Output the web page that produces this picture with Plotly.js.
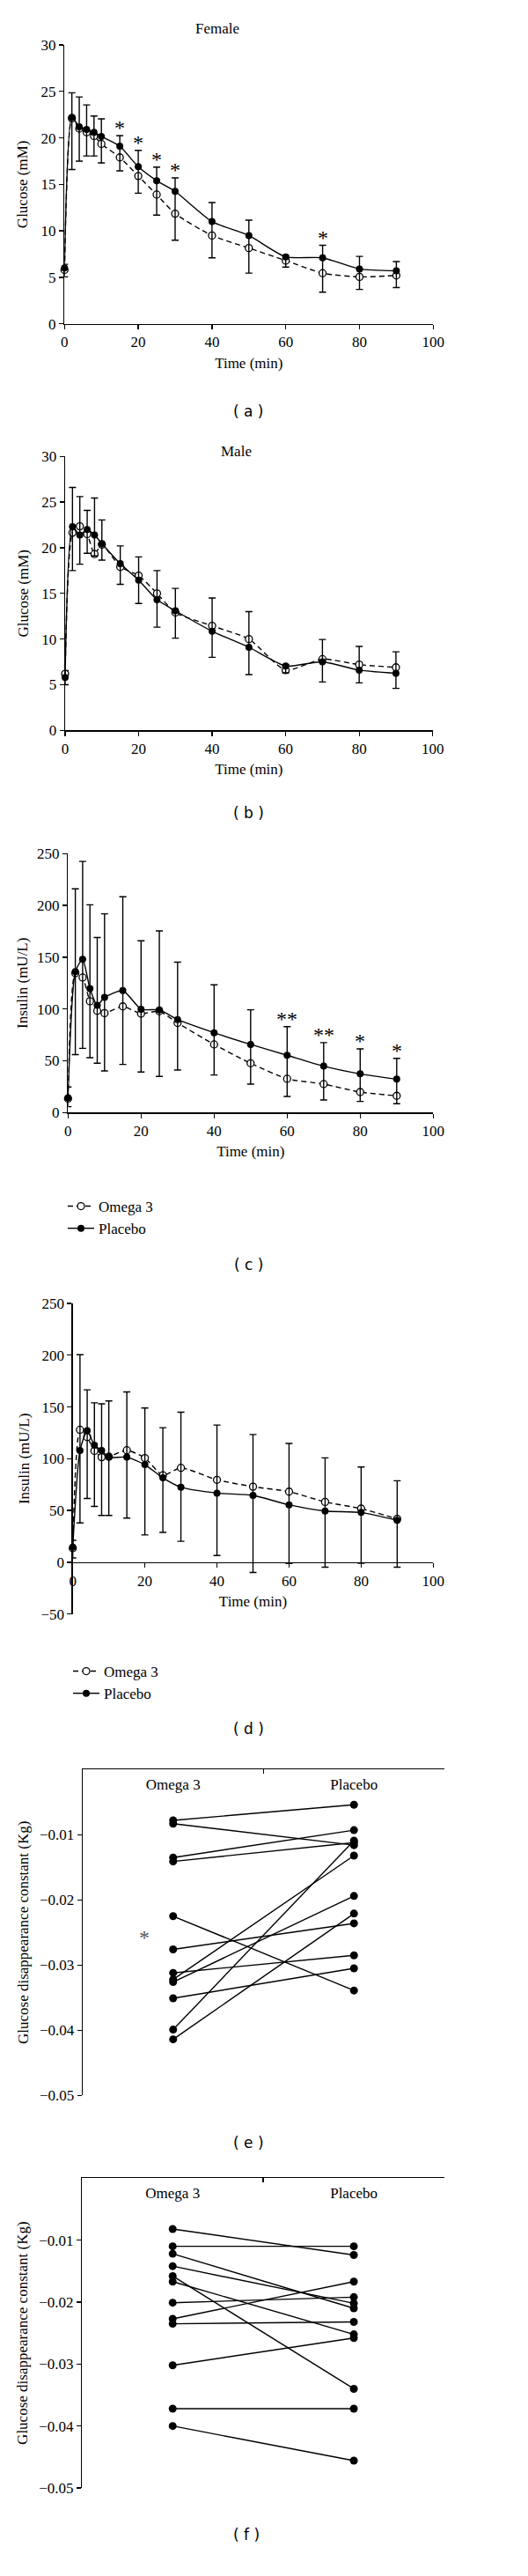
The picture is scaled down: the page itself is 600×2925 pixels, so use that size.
<!DOCTYPE html>
<html><head><meta charset="utf-8">
<script src="https://cdn.plot.ly/plotly-3.0.1.min.js"></script>
<style>html,body{margin:0;padding:0;background:#fff}</style>
</head><body><div id="chart" style="width:600px;height:2925px"></div>
<script>
// ---------------- data ----------------
const time = [0, 2, 4, 6, 8, 10, 15, 20, 25, 30, 40, 50, 60, 70, 80, 90];

// (a) Female glucose (mM)
const aPlacebo   = [6.0, 22.2, 21.2, 20.9, 20.6, 20.15, 19.1, 16.9, 15.4, 14.25, 11.0, 9.5, 7.2, 7.1, 5.9, 5.7];
const aOmega     = [5.8, 22.1, 21.0, 20.6, 20.2, 19.35, 17.9, 15.9, 13.9, 11.85, 9.5, 8.15, 6.8, 5.45, 5.05, 5.2];
const aBarTop    = [6.4, 24.85, 24.4, 23.55, 22.35, 22.05, 20.25, 18.65, 16.85, 15.7, 13.05, 11.15, 7.35, 8.45, 7.25, 6.7];
const aBarBottom = [5.05, 16.6, 17.5, 18.05, 18.05, 17.3, 16.45, 14.05, 11.7, 9.0, 7.1, 5.45, 6.1, 3.4, 3.7, 3.9];
const aStarTimes = [15, 20, 25, 30, 70];
const aStarText  = ['*', '*', '*', '*', '*'];

// (b) Male glucose (mM)
const bPlacebo   = [5.8, 22.3, 21.4, 22.0, 21.4, 20.45, 18.25, 16.45, 14.3, 13.1, 10.85, 9.1, 7.05, 7.5, 6.6, 6.25];
const bOmega     = [6.2, 21.65, 22.35, 21.5, 19.3, 20.35, 17.9, 16.95, 15.0, 12.9, 11.45, 10.0, 6.6, 7.8, 7.2, 6.9];
const bBarTop    = [6.55, 26.6, 25.6, 24.1, 25.45, 23.05, 20.2, 19.0, 17.5, 15.55, 14.5, 13.0, 7.2, 9.95, 9.2, 8.6];
const bBarBottom = [5.0, 17.5, 18.2, 19.4, 19.1, 18.65, 16.0, 13.9, 11.3, 10.1, 8.0, 6.1, 6.3, 5.3, 5.2, 4.6];

// (c) Insulin (mU/L), female
const cPlacebo   = [14.2, 136, 148, 119.8, 103.6, 111.2, 117.8, 99.8, 99.2, 89.8, 77.1, 65.8, 55.3, 44.8, 37.4, 32.3];
const cOmega     = [13.5, 134.6, 130.4, 107.5, 98.3, 96.0, 102.5, 95.5, 97.8, 86.5, 65.8, 47.6, 32.6, 27.5, 19.8, 16.2];
const cBarTop    = [24.7, 216, 242.5, 200.6, 169, 191.9, 208.4, 165.8, 175.4, 145.3, 123.3, 99.2, 83.0, 67.5, 61.5, 52.4];
const cBarBottom = [5.7, 56, 62, 53, 47.6, 40.2, 46.5, 39.1, 34.9, 41.1, 36.3, 27.5, 15.6, 12.2, 10.8, 8.5];
const cStarTimes = [60, 70, 80, 90];
const cStarText  = ['**', '**', '*', '*'];

// (d) Insulin (mU/L), male
const dPlacebo   = [14.5, 108, 127, 113, 108, 101.5, 101.5, 94.3, 81.5, 72.5, 66.8, 64.6, 55.5, 49.5, 48.1, 40.5];
const dOmega     = [13.6, 128, 121, 107.6, 101.5, 102, 108.2, 100.7, 84, 91.2, 79.6, 73, 68.2, 58.3, 51.8, 41.9];
const dBarTop    = [21.2, 200.5, 166.5, 154, 153, 155.8, 164.5, 149, 130, 145, 132.5, 123.4, 114.7, 100.8, 92, 78.7];
const dBarBottom = [4.2, 38, 61.6, 54, 45.2, 45.2, 42.7, 26.4, 28.8, 20.2, 6.5, -9.9, -1.1, -4.8, -1.0, -4.8];

// (e), (f) Glucose disappearance constant (Kg), paired subjects
const groups = ['Omega 3', 'Placebo'];
const eOmega   = [-0.0078, -0.0083, -0.0135, -0.0141, -0.0225, -0.0276, -0.0312, -0.0322, -0.0326, -0.0351, -0.0399, -0.0414];
const ePlacebo = [-0.0054, -0.0116, -0.0093, -0.0112, -0.0339, -0.0236, -0.0285, -0.0132, -0.0194, -0.0305, -0.0109, -0.0221];
const fOmega   = [-0.0082, -0.0110, -0.0122, -0.0142, -0.0158, -0.0167, -0.0201, -0.0227, -0.0235, -0.0302, -0.0372, -0.0400];
const fPlacebo = [-0.0124, -0.0110, -0.0210, -0.0202, -0.0340, -0.0252, -0.0192, -0.0167, -0.0232, -0.0258, -0.0372, -0.0456];

// ---------------- layout helpers ----------------
const W = 600, H = 2925;
const px = v => v / W;
const py = v => 1 - v / H;
const yd = (top, bot) => [py(bot), py(top)];
const serif = 'Liberation Serif, Times New Roman, serif';
const sans = 'DejaVu Sans, Verdana, sans-serif';

function axisBase(extra) {
  return Object.assign({
    showline: true, linecolor: '#000', linewidth: 1.3,
    ticks: 'outside', ticklen: 5, tickwidth: 1.3, tickcolor: '#000',
    showgrid: false, zeroline: false, fixedrange: true,
    tickfont: {family: serif, size: 17, color: '#000'}
  }, extra);
}

const traces = [];
const annotations = [];

function timePanel(n, placebo, omega, top, bot, legendName) {
  const xa = 'x' + (n === 1 ? '' : n), ya = 'y' + (n === 1 ? '' : n);
  const show = !!legendName;
  const lineCommon = {color: '#000', width: 1.4, shape: 'spline', smoothing: 0.6};
  traces.push({
    x: time, y: omega, xaxis: xa, yaxis: ya, type: 'scatter', mode: 'lines+markers',
    name: 'Omega 3', showlegend: show, legend: legendName || 'legend',
    line: Object.assign({dash: '6px,4px'}, lineCommon),
    marker: {symbol: 'circle', size: 8, color: '#fff', line: {color: '#000', width: 1.3}},
    cliponaxis: false, hoverinfo: 'x+y'
  });
  traces.push({
    x: time, y: placebo, xaxis: xa, yaxis: ya, type: 'scatter', mode: 'lines+markers',
    name: 'Placebo', showlegend: show, legend: legendName || 'legend',
    line: Object.assign({dash: 'solid'}, lineCommon),
    marker: {symbol: 'circle', size: 8, color: '#000'},
    error_y: {
      type: 'data', symmetric: false, visible: true,
      array: top.map((t, i) => t - placebo[i]),
      arrayminus: bot.map((b, i) => placebo[i] - b),
      color: '#000', thickness: 1.4, width: 4
    },
    cliponaxis: false, hoverinfo: 'x+y'
  });
}

timePanel(1, aPlacebo, aOmega, aBarTop, aBarBottom, null);
timePanel(2, bPlacebo, bOmega, bBarTop, bBarBottom, null);
timePanel(3, cPlacebo, cOmega, cBarTop, cBarBottom, 'legend');
timePanel(4, dPlacebo, dOmega, dBarTop, dBarBottom, 'legend2');

function pairedPanel(n, omega, placebo) {
  for (let i = 0; i < omega.length; i++) {
    traces.push({
      x: groups, y: [omega[i], placebo[i]], xaxis: 'x' + n, yaxis: 'y' + n,
      type: 'scatter', mode: 'lines+markers', showlegend: false,
      line: {color: '#000', width: 1.4},
      marker: {symbol: 'circle', size: 9, color: '#000'},
      cliponaxis: false, hoverinfo: 'y'
    });
  }
}
pairedPanel(5, eOmega, ePlacebo);
pairedPanel(6, fOmega, fPlacebo);

// significance stars, placed on top of the error bars
function stars(n, times, texts, top) {
  times.forEach((t, k) => {
    const i = time.indexOf(t);
    annotations.push({
      xref: 'x' + n, yref: 'y' + n, x: t, y: top[i], text: texts[k],
      showarrow: false, xanchor: 'center', yanchor: 'bottom', yshift: -6,
      font: {family: serif, size: 24, color: '#000'}
    });
  });
}
stars('', aStarTimes, aStarText, aBarTop);
stars(3, cStarTimes, cStarText, cBarTop);
annotations.push({
  xref: 'x5', yref: 'y5', x: -0.16, y: -0.0252, text: '*', showarrow: false,
  xanchor: 'center', yanchor: 'middle', yshift: -4,
  font: {family: serif, size: 24, color: '#555'}
});

// titles and panel letters
function paperText(text, x, y, font) {
  annotations.push({xref: 'paper', yref: 'paper', x: px(x), y: py(y), text: text,
    showarrow: false, xanchor: 'center', yanchor: 'middle', font: font});
}
paperText('Female', 247, 32, {family: serif, size: 17, color: '#000'});
paperText('Male', 268, 513, {family: serif, size: 17, color: '#000'});
const letterFont = {family: sans, size: 17, color: '#000'};
paperText('( a )', 282, 467, letterFont);
paperText('( b )', 282, 923, letterFont);
paperText('( c )', 282, 1436, letterFont);
paperText('( d )', 282, 1963, letterFont);
paperText('( e )', 282, 2433, letterFont);
paperText('( f )', 280, 2878, letterFont);

const tFont = {family: serif, size: 17, color: '#000'};
const timeTitle = {text: 'Time (min)', font: tFont, standoff: 8};

const dDomain = yd(1480, 1832.7);

const layout = {
  width: W, height: H,
  margin: {l: 0, r: 0, t: 0, b: 0},
  paper_bgcolor: '#fff', plot_bgcolor: 'rgba(0,0,0,0)',
  font: {family: serif, size: 17, color: '#000'},
  showlegend: true,
  // (a)
  xaxis: axisBase({domain: [px(73.3), px(492.3)], anchor: 'y', range: [0, 100], dtick: 20, title: timeTitle}),
  yaxis: axisBase({domain: yd(51, 367.7), anchor: 'x', range: [0, 30], dtick: 5,
    title: {text: 'Glucose (mM)', font: tFont, standoff: 10}}),
  // (b)
  xaxis2: axisBase({domain: [px(74), px(491.7)], anchor: 'y2', range: [0, 100], dtick: 20, title: timeTitle}),
  yaxis2: axisBase({domain: yd(518.3, 829.3), anchor: 'x2', range: [0, 30], dtick: 5,
    title: {text: 'Glucose (mM)', font: tFont, standoff: 10}}),
  // (c)
  xaxis3: axisBase({domain: [px(77.3), px(492.3)], anchor: 'y3', range: [0, 100], dtick: 20, title: timeTitle}),
  yaxis3: axisBase({domain: yd(969.3, 1263.3), anchor: 'x3', range: [0, 250], dtick: 50,
    title: {text: 'Insulin (mU/L)', font: tFont, standoff: 6}}),
  // (d)
  xaxis4: axisBase({domain: [px(82.7), px(492.3)], anchor: 'free',
    position: dDomain[0] + (dDomain[1] - dDomain[0]) * 50 / 300,
    range: [0, 100], dtick: 20, title: timeTitle}),
  yaxis4: axisBase({domain: dDomain, anchor: 'x4', range: [-50, 250], dtick: 50,
    title: {text: 'Insulin (mU/L)', font: tFont, standoff: 8}}),
  // (e)
  xaxis5: axisBase({domain: [px(94), px(505)], anchor: 'y5', type: 'category', side: 'top',
    range: [-0.5, 1.5], ticks: 'inside', tickson: 'boundaries', ticklabelposition: 'inside',
    ticklabelstandoff: 6}),
  yaxis5: axisBase({domain: yd(2009.3, 2379.3), anchor: 'x5', range: [-0.05, 0], dtick: 0.01,
    title: {text: 'Glucose disappearance constant (Kg)', font: tFont, standoff: 8}}),
  // (f)
  xaxis6: axisBase({domain: [px(93.3), px(505)], anchor: 'y6', type: 'category', side: 'top',
    range: [-0.5, 1.5], ticks: 'inside', tickson: 'boundaries', ticklabelposition: 'inside',
    ticklabelstandoff: 6}),
  yaxis6: axisBase({domain: yd(2473.3, 2825), anchor: 'x6', range: [-0.05, 0], dtick: 0.01,
    title: {text: 'Glucose disappearance constant (Kg)', font: tFont, standoff: 8}}),
  legend: {x: px(72), xanchor: 'left', y: py(1352), yanchor: 'top',
    font: {family: serif, size: 17, color: '#000'}, bgcolor: 'rgba(0,0,0,0)', borderwidth: 0},
  legend2: {x: px(78), xanchor: 'left', y: py(1880), yanchor: 'top',
    font: {family: serif, size: 17, color: '#000'}, bgcolor: 'rgba(0,0,0,0)', borderwidth: 0},
  annotations: annotations
};

Plotly.newPlot('chart', traces, layout, {staticPlot: true, displayModeBar: false});
</script>
</body></html>
